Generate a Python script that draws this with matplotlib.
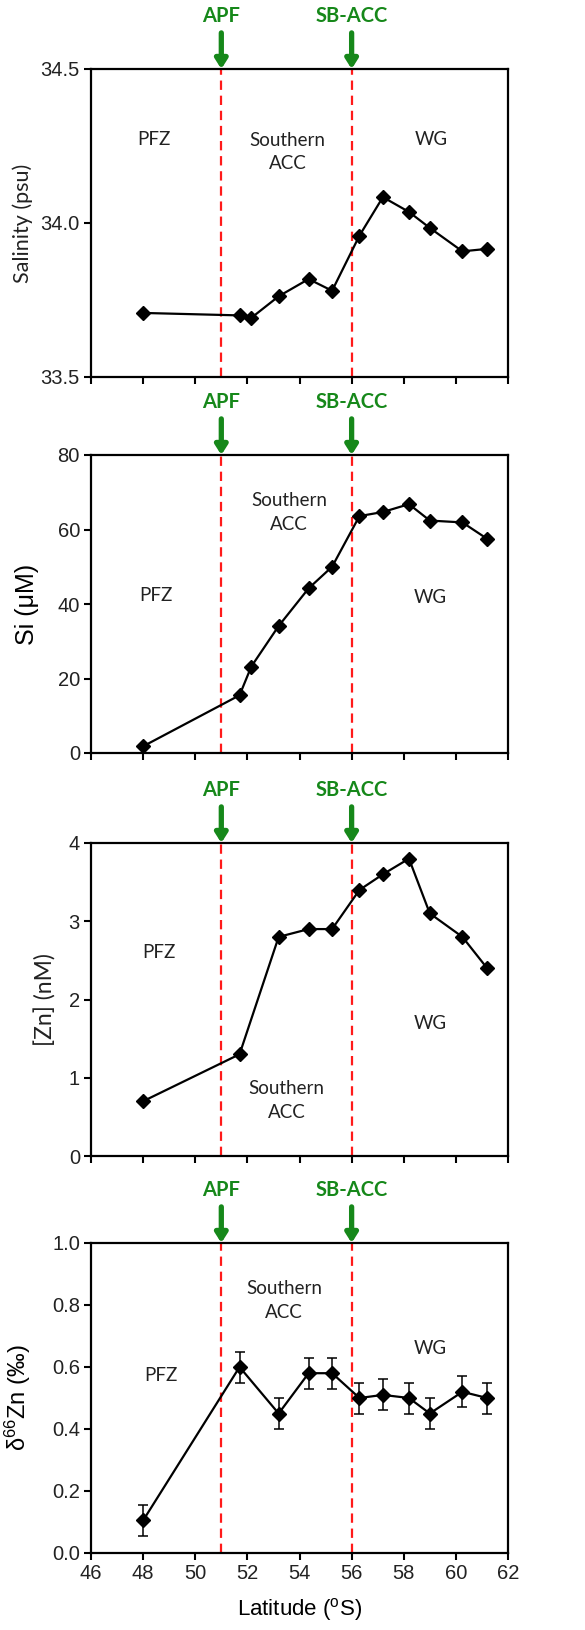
import numpy as np
import matplotlib
matplotlib.use("Agg")
from matplotlib import pyplot as plt

plt.rcParams["mathtext.default"] = "regular"

# latitudes (deg S)
lat_sal = [48.0, 51.7, 52.15, 53.2, 54.35, 55.25, 56.3, 57.2, 58.2, 59.0, 60.25, 61.2]
lat_zn = [48.0, 51.7, 53.2, 54.35, 55.25, 56.3, 57.2, 58.2, 59.0, 60.25, 61.2]

salinity = [33.708, 33.70, 33.692, 33.762, 33.818, 33.78, 33.959, 34.084, 34.036, 33.984, 33.908, 33.916]
si = [1.8, 15.5, 23.2, 34.1, 44.2, 50.0, 63.6, 64.7, 66.8, 62.4, 61.9, 57.5]
zn = [0.7, 1.3, 2.8, 2.9, 2.9, 3.4, 3.6, 3.8, 3.1, 2.8, 2.4]
d66zn = [0.105, 0.60, 0.45, 0.58, 0.58, 0.50, 0.51, 0.50, 0.45, 0.52, 0.50]
d66zn_err = [0.05, 0.05, 0.05, 0.05, 0.05, 0.05, 0.05, 0.05, 0.05, 0.05, 0.05]

fronts = [51.0, 56.0]
front_names = ["APF", "SB-ACC"]

W, H = 585, 1630
fig = plt.figure(figsize=(W / 100, H / 100), dpi=100)

# (top, bottom) of each panel in pixels
boxes = [(69, 377), (455, 753), (843, 1156), (1243, 1553)]
left, right = 91, 508

tickfont = "Liberation Sans"
calib = "Lato"
green = "#16881a"
txtc = "#222222"

axes = []
for top, bot in boxes:
    ax = fig.add_axes([left / W, (H - bot) / H, (right - left) / W, (bot - top) / H])
    ax.set_xlim(46, 62)
    ax.set_xticks(np.arange(46, 63, 2))
    for s in ax.spines.values():
        s.set_linewidth(1.6)
    ax.tick_params(direction="out", length=5, width=1.5, top=False, right=False,
                   labelsize=14.5, pad=3)
    for xf in fronts:
        ax.axvline(xf, color="#ff1a1a", lw=1.6, ls=(0, (4.2, 2.6)), zorder=1)
    for xf, name in zip(fronts, front_names):
        ax.annotate("", xy=(xf, 1.0), xycoords=("data", "axes fraction"),
                    xytext=(0, 26), textcoords="offset points",
                    arrowprops=dict(arrowstyle="-|>,head_width=0.35,head_length=0.55",
                                    color=green, lw=3.8, shrinkA=0, shrinkB=0),
                    annotation_clip=False)
        ax.annotate(name, xy=(xf, 1.0), xycoords=("data", "axes fraction"),
                    xytext=(0, 38), textcoords="offset points", ha="center", va="center",
                    fontsize=14.5, fontweight="bold", color=green, family=calib,
                    annotation_clip=False)
    axes.append(ax)

ax1, ax2, ax3, ax4 = axes
mk = dict(color="black", lw=1.6, marker="D", ms=7, zorder=3)


def regions(ax, pfz, south, wg):
    ax.text(pfz[0], pfz[1], "PFZ", fontsize=13.5, family=calib, ha="center", va="center", color=txtc)
    ax.text(south[0], south[1], "Southern\nACC", fontsize=13.5, family=calib, ha="center",
            va="center", linespacing=1.45, color=txtc)
    ax.text(wg[0], wg[1], "WG", fontsize=13.5, family=calib, ha="center", va="center", color=txtc)


# Salinity
ax1.plot(lat_sal, salinity, **mk)
ax1.set_ylim(33.5, 34.5)
ax1.set_yticks([33.5, 34.0, 34.5])
ax1.set_yticklabels(["33.5", "34.0", "34.5"])
ax1.set_ylabel("Salinity (psu)", fontsize=15.5, family=calib, color=txtc)
ax1.yaxis.set_label_coords((33 - left) / (right - left), 0.5)
regions(ax1, (48.4, 34.27), (53.55, 34.23), (59.05, 34.27))

# Si
ax2.plot(lat_sal, si, **mk)
ax2.set_ylim(0, 80)
ax2.set_yticks([0, 20, 40, 60, 80])
ax2.set_ylabel("Si (\u03bcM)", fontsize=18, family=tickfont)
ax2.yaxis.set_label_coords((39 - left) / (right - left), 0.5)
regions(ax2, (48.5, 42.4), (53.6, 64.6), (59.0, 41.8))

# Zn
ax3.plot(lat_zn, zn, **mk)
ax3.set_ylim(0, 4)
ax3.set_yticks([0, 1, 2, 3, 4])
ax3.set_ylabel("[Zn] (nM)", fontsize=16.5, family=calib, color=txtc)
ax3.yaxis.set_label_coords((57 - left) / (right - left), 0.5)
regions(ax3, (48.6, 2.6), (53.5, 0.71), (59.0, 1.69))

# d66Zn
ax4.errorbar(lat_zn, d66zn, yerr=d66zn_err, capsize=3.5, elinewidth=1.1, capthick=1.1, **mk)
ax4.set_ylim(0, 1.0)
ax4.set_yticks(np.arange(0, 1.01, 0.2))
ax4.set_yticklabels(["0.0", "0.2", "0.4", "0.6", "0.8", "1.0"])
ax4.set_ylabel("$\\delta^{66}$Zn (\u2030)", fontsize=17, family=tickfont)
ax4.yaxis.set_label_coords((33 - left) / (right - left), 0.5)
regions(ax4, (48.7, 0.572), (53.4, 0.815), (59.0, 0.66))
ax4.set_xlabel("Latitude ($^{o}$S)", fontsize=16, family=tickfont, labelpad=9)

for ax in axes[:3]:
    ax.set_xticklabels([])
for ax in axes:
    for lab in ax.get_xticklabels() + ax.get_yticklabels():
        lab.set_family(tickfont)
        lab.set_color(txtc)

fig.savefig("out.png", dpi=100)
